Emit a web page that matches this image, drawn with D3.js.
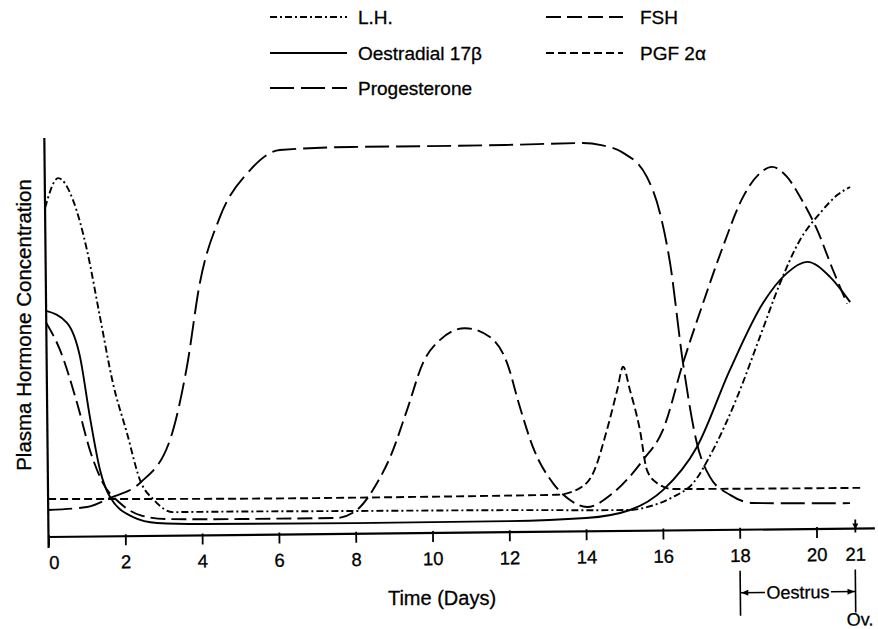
<!DOCTYPE html>
<html>
<head>
<meta charset="utf-8">
<script src="https://cdn.jsdelivr.net/npm/d3@7"></script>
<style>
  html, body { margin: 0; padding: 0; background: #fff; }
  svg { display: block; }
  text { font-family: "Liberation Sans", Arial, Helvetica, sans-serif; fill: #000; stroke: #000; stroke-width: 0.3px; }
</style>
</head>
<body>
<svg id="chart" width="878" height="629"></svg>
<script>
// ---- Data (relative plasma concentration vs. day of cycle) ----
const lhDays   = [0, 0.35, 0.73, 1.08, 1.40, 1.72, 2.07, 2.40, 2.76, 3.25, 4, 8, 12, 15.15, 15.59, 16.27, 16.80, 17.33, 17.97, 18.58, 19.12, 19.65, 20.18, 20.63, 20.97];
const lhValues = [86.6, 94.4, 88.6, 75.4, 57.8, 40.3, 27.2, 14.7, 9.4, 6.2, 6.2, 6.0, 5.8, 5.5, 6.2, 8.8, 12.4, 21.1, 34.9, 50.7, 64.8, 76.1, 83.1, 87.8, 89.9];

const oeDays   = [0, 0.54, 0.87, 1.11, 1.36, 1.61, 2.21, 2.83, 4, 8, 12, 14, 15.15, 16.02, 16.91, 17.79, 18.67, 19.30, 19.83, 20.42, 20.94];
const oeValues = [59.5, 56.3, 47.3, 31.5, 17.5, 10.4, 5.0, 3.4, 3.0, 2.8, 2.9, 3.5, 5.5, 10.7, 21.9, 42.1, 59.6, 67.4, 70.3, 66.3, 59.6];

const prDays   = [0, 1.01, 1.61, 2.40, 3.19, 3.65, 4.01, 4.55, 5.35, 6.13, 8, 10, 12, 14, 14.5, 15.07, 15.68, 16.01, 16.26, 16.57, 16.91, 17.24, 17.76, 18.36, 20.88];
const prValues = [7.1, 7.8, 10.1, 14.0, 25.2, 44.4, 66.4, 83.7, 96.0, 101.2, 101.8, 101.8, 101.9, 102.2, 101.6, 99.5, 93.1, 83.6, 70.4, 44.0, 22.9, 14.0, 9.2, 7.0, 6.7];

const fshDays   = [0, 0.35, 0.78, 1.10, 1.43, 1.87, 2.39, 3.09, 5, 7.5, 8.04, 8.57, 8.92, 9.37, 9.80, 10.25, 10.90, 11.55, 11.99, 12.31, 12.64, 13.15, 13.59, 14.03, 14.71, 15.50, 16.03, 16.57, 17.11, 17.64, 18.18, 18.63, 18.94, 19.33, 19.71, 20.10, 20.50, 20.86];
const fshValues = [56.3, 49.2, 35.2, 22.8, 14.1, 8.75, 5.5, 4.4, 4.2, 4.2, 6.3, 13.3, 20.1, 32.4, 44.8, 50.8, 53.8, 51.4, 44.5, 32.9, 22.3, 12.8, 8.3, 6.4, 10.0, 18.6, 26.5, 44.0, 59.8, 74.5, 87.6, 93.8, 95.4, 92.7, 86.6, 78.7, 68.1, 59.2];

const pgfDays   = [0, 7, 13.25, 13.85, 14.20, 14.57, 14.85, 15.01, 15.18, 15.43, 15.60, 15.86, 16.28, 21.15];
const pgfValues = [10.0, 9.5, 9.7, 11.4, 15.3, 26.6, 37.1, 43.2, 37.1, 26.5, 16.0, 12.5, 10.9, 10.7];

const tickDays = [0, 2, 4, 6, 8, 10, 12, 14, 16, 18, 20, 21];
const seriesNames = ["L.H.", "Oestradial 17\u03B2", "Progesterone", "FSH", "PGF 2\u03B1"];

// ---- Styles ----
const dashes = {
  "L.H.": "7,3,2,3",
  "Oestradial 17\u03B2": null,
  "Progesterone": "24,7",
  "FSH": "15,6",
  "PGF 2\u03B1": "8,4"
};

const series = [
  { name: seriesNames[0], days: lhDays,  values: lhValues },
  { name: seriesNames[1], days: oeDays,  values: oeValues },
  { name: seriesNames[2], days: prDays,  values: prValues },
  { name: seriesNames[3], days: fshDays, values: fshValues },
  { name: seriesNames[4], days: pgfDays, values: pgfValues }
];

const svg = d3.select("#chart");

const x = d3.scaleLinear().domain([0, 21]).range([48.5, 854.9]);
const y = d3.scaleLinear().domain([0, 100]).range([537, 157]);
const y0 = y(0);

// whole plot is slightly tilted as in the scanned original
const g = svg.append("g").attr("transform", `rotate(-0.6, ${x(0)}, ${y0})`);

// axes lines
g.append("line")
  .attr("x1", x(0)).attr("x2", x.range()[1] + 20)
  .attr("y1", y0).attr("y2", y0)
  .attr("stroke", "#000").attr("stroke-width", 2.2);
g.append("line")
  .attr("x1", x(0)).attr("x2", x(0))
  .attr("y1", y0 + 11).attr("y2", y(105))
  .attr("stroke", "#000").attr("stroke-width", 2.2);

// x axis ticks + labels
const xAxis = d3.axisBottom(x)
  .tickValues(tickDays)
  .tickFormat(d3.format("d"))
  .tickSize(9)
  .tickPadding(10);
const ax = g.append("g").attr("transform", `translate(0,${y0})`).call(xAxis);
ax.select(".domain").remove();
ax.selectAll(".tick line")
  .attr("y1", d => d === 21 ? -9 : -2)
  .attr("y2", d => d === 21 ? 4 : 9)
  .attr("stroke", "#000").attr("stroke-width", 1.8);
ax.selectAll(".tick text")
  .attr("font-size", 18.5)
  .attr("font-family", "Liberation Sans, Arial, sans-serif")
  .attr("fill", "#000")
  .attr("dx", d => d === 0 ? 5 : 0);
// small arrowhead on day-21 tick
ax.selectAll(".tick").filter(d => d === 21)
  .append("path")
  .attr("d", "M-3,-5 L3,-5 L0,1 Z")
  .attr("fill", "#000");

// curves
const line = d3.line()
  .x(d => x(d[0]))
  .y(d => y(d[1]))
  .curve(d3.curveMonotoneX);

g.selectAll("path.series")
  .data(series)
  .enter()
  .append("path")
  .attr("class", "series")
  .attr("d", s => line(s.days.map((d, i) => [d, s.values[i]])))
  .attr("fill", "none")
  .attr("stroke", "#000")
  .attr("stroke-width", 1.9)
  .attr("stroke-dasharray", s => dashes[s.name]);

// Oestrus annotation
const ann = g.append("g").attr("stroke", "#000").attr("stroke-width", 1.6);
const xa = x(18), xb = x(21), xm = (xa + xb) / 2;
ann.append("line").attr("x1", xa).attr("x2", xa).attr("y1", y0 + 41).attr("y2", y0 + 86);
ann.append("line").attr("x1", xb).attr("x2", xb).attr("y1", y0 + 41).attr("y2", y0 + 84);
ann.append("line").attr("x1", xa).attr("x2", xm - 33).attr("y1", y0 + 63).attr("y2", y0 + 63);
ann.append("line").attr("x1", xm + 33).attr("x2", xb).attr("y1", y0 + 63).attr("y2", y0 + 63);
ann.append("path").attr("d", `M${xa + 1},${y0 + 63} l7,-3 l0,6 Z`).attr("fill", "#000").attr("stroke", "none");
ann.append("path").attr("d", `M${xb - 1},${y0 + 63} l-7,-3 l0,6 Z`).attr("fill", "#000").attr("stroke", "none");
g.append("text")
  .attr("x", xm).attr("y", y0 + 63)
  .attr("dy", "0.35em")
  .attr("text-anchor", "middle")
  .attr("font-size", 18)
  .text("Oestrus");
g.append("text")
  .attr("x", xb - 9).attr("y", y0 + 97)
  .attr("font-size", 18)
  .text("Ov.");

// axis titles
svg.append("text")
  .attr("transform", "translate(31,325) rotate(-90)")
  .attr("text-anchor", "middle")
  .attr("font-size", 20.5)
  .text("Plasma Hormone Concentration");
svg.append("text")
  .attr("x", 442).attr("y", 605)
  .attr("text-anchor", "middle")
  .attr("font-size", 20)
  .text("Time (Days)");

// legend
const legendPos = [
  { name: seriesNames[0], x: 270, y: 17 },
  { name: seriesNames[1], x: 270, y: 53 },
  { name: seriesNames[2], x: 270, y: 88 },
  { name: seriesNames[3], x: 546, y: 17 },
  { name: seriesNames[4], x: 546, y: 53 }
];
const lg = svg.append("g");
legendPos.forEach(p => {
  lg.append("line")
    .attr("x1", p.x).attr("x2", p.x + 77)
    .attr("y1", p.y).attr("y2", p.y)
    .attr("stroke", "#000").attr("stroke-width", 1.9)
    .attr("stroke-dasharray", dashes[p.name]);
  lg.append("text")
    .attr("x", p.x + (p.x < 400 ? 88 : 94))
    .attr("y", p.y)
    .attr("dy", "0.35em")
    .attr("font-size", 19)
    .text(p.name);
});
</script>
</body>
</html>
